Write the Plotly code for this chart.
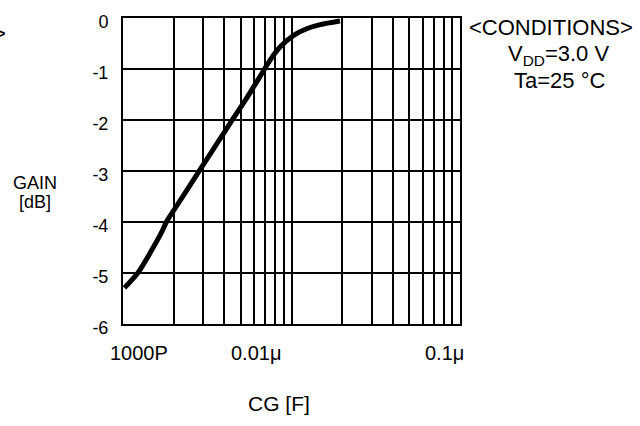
import math
import plotly.graph_objects as go

# ---- data ----
cg_farad = [1.02e-9, 1.23e-9, 1.47e-9, 1.69e-9, 1.81e-9, 2.03e-9, 2.86e-9, 3.60e-9,
            4.51e-9, 5.42e-9, 6.50e-9, 7.45e-9, 8.55e-9, 1.03e-8, 1.23e-8, 1.48e-8, 1.94e-8]
gain_db = [-5.29, -4.99, -4.57, -4.21, -4.00, -3.74, -2.98, -2.47,
           -1.97, -1.57, -1.15, -0.83, -0.57, -0.34, -0.21, -0.13, -0.06]

y_tick_vals = [0, -1, -2, -3, -4, -5, -6]
y_tick_text = ["0", "-1", "-2", "-3", "-4", "-5", "-6"]

x_grid_vals = [k * 10.0 ** n for n in (-9, -8) for k in range(1, 10)] + [1e-7]
x_label_vals = [1e-9, 1e-8, 1e-7]
x_label_text = ["1000P", "0.01\u03bc", "0.1\u03bc"]
x_label_shift = [16, -36, -16]

conditions = ["&lt;CONDITIONS&gt;", "V<sub>DD</sub>=3.0 V", "Ta=25 \u00b0C"]

# ---- layout geometry ----
W, H = 640, 426
L, R, T, B = 123, 180, 14, 102
PW = W - L - R
PH = H - T - B
FONT = "Liberation Sans, Arial, sans-serif"


def px(xp):
    return (xp - L) / PW


def py(yp):
    return 1 - (yp - T) / PH


fig = go.Figure()
fig.add_trace(go.Scatter(
    x=cg_farad, y=gain_db, mode="lines",
    line=dict(color="black", width=5, shape="spline", smoothing=0.8),
    showlegend=False, hoverinfo="skip",
))

annotations = []
for v, t, s in zip(x_label_vals, x_label_text, x_label_shift):
    annotations.append(dict(
        x=math.log10(v), xref="x", y=0, yref="paper", text=t,
        xanchor="center", yanchor="middle", xshift=s, yshift=-(353 - (T + PH)),
        showarrow=False, font=dict(family=FONT, size=20, color="black"),
    ))

annotations.append(dict(x=px(279), y=py(405), xref="paper", yref="paper", text="CG [F]",
                        showarrow=False, xanchor="center", yanchor="middle",
                        font=dict(family=FONT, size=21, color="black")))
annotations.append(dict(x=px(35), y=py(181), xref="paper", yref="paper", text="GAIN",
                        showarrow=False, xanchor="center", yanchor="middle",
                        font=dict(family=FONT, size=18, color="black")))
annotations.append(dict(x=px(35), y=py(200), xref="paper", yref="paper", text="[dB]",
                        showarrow=False, xanchor="center", yanchor="middle",
                        font=dict(family=FONT, size=18, color="black")))
for t, (cx, cy) in zip(conditions, [(551, 24), (558, 51), (559, 77)]):
    annotations.append(dict(x=px(cx), y=py(cy), xref="paper", yref="paper", text=t,
                            showarrow=False, xanchor="center", yanchor="middle",
                            font=dict(family=FONT, size=22, color="black")))
annotations.append(dict(x=px(8), y=py(30), xref="paper", yref="paper", text="&gt;",
                        showarrow=False, xanchor="right", yanchor="middle",
                        font=dict(family=FONT, size=22, color="black")))

fig.update_layout(
    width=W, height=H,
    margin=dict(l=L, r=R, t=T, b=B, pad=0),
    paper_bgcolor="white", plot_bgcolor="white",
    xaxis=dict(type="log", range=[-9, -7], tickvals=x_grid_vals, showticklabels=False,
               showgrid=True, gridcolor="black", gridwidth=2, zeroline=False,
               showline=True, linecolor="black", linewidth=2, mirror=True, ticks=""),
    yaxis=dict(range=[-6, 0], tickvals=y_tick_vals, ticktext=y_tick_text,
               showgrid=True, gridcolor="black", gridwidth=2, zeroline=False,
               showline=True, linecolor="black", linewidth=2, mirror=True, ticks="",
               ticklabelstandoff=9, ticklabelshift=4,
               tickfont=dict(family=FONT, size=18, color="black")),
    annotations=annotations,
)

fig.write_html("out.html", config={"displayModeBar": False},
               post_script="document.body.style.margin='0';document.body.style.overflow='hidden';")
